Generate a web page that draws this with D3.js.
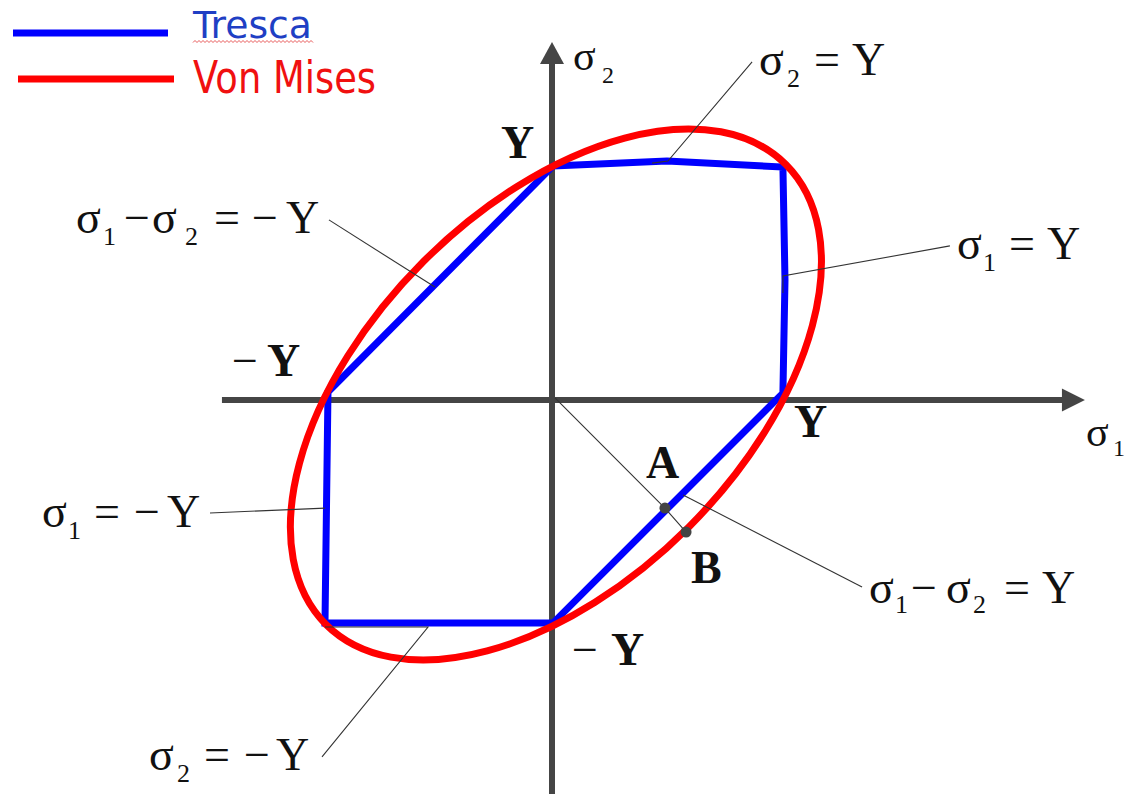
<!DOCTYPE html>
<html>
<head>
<meta charset="utf-8">
<script src="https://cdn.jsdelivr.net/npm/d3@7"></script>
<style>
  html, body { margin: 0; padding: 0; background: #fff; }
  svg { display: block; }
  .serif { font-family: "Liberation Serif", "Times New Roman", serif; fill: #111; }
  .legend { font-family: "DejaVu Sans", Verdana, sans-serif; }
</style>
</head>
<body>
<svg id="chart" width="1126" height="794"></svg>
<script>
// Yield surfaces in the principal stress plane, stresses in units of Y.

// Tresca hexagon vertices (sigma1, sigma2)
const trescaS1 = [0.004, 0.500, 1.004, 1.013, 1.004, 0.004, -0.987, -0.974];
const trescaS2 = [1.017, 1.039, 1.013, 0.522, 0.030, -0.970, -0.970, 0.035];

// Von Mises ellipse: centre, semi-axes (sqrt2, sqrt(2/3)) and tilt in degrees
const vmCenter = [0.017, 0.024];
const vmSemiAxes = [1.414, 0.816];
const vmAngle = 45;

// Marked points on the sigma1 - sigma2 = Y direction
const pointNames = ["A", "B"];
const pointS1 = [0.491, 0.583];
const pointS2 = [-0.470, -0.574];

// Axis extents (sigma units)
const axisS1 = [-1.435, 2.317];
const axisS2 = [-1.75, 1.557];

// Leader lines from each equation label to its edge
const leaderLines = [
  [[0.870, 1.470], [0.504, 1.039], [0.435, 1.030]],     // sigma2 = Y
  [[1.730, 0.670], [1.004, 0.539], [1.004, 0.465]],     // sigma1 = Y
  [[-0.970, 0.783], [-0.509, 0.491]],                   // sigma1 - sigma2 = -Y
  [[-1.487, -0.491], [-0.987, -0.470]],                 // sigma1 = -Y
  [[-1.000, -1.552], [-0.539, -0.987], [-0.987, -0.987]], // sigma2 = -Y
  [[0.013, 0.009], [0.491, -0.470], [0.583, -0.574]],   // normal through A and B
  [[0.570, -0.413], [1.348, -0.813]]                    // sigma1 - sigma2 = Y
];

const legendNames = ["Tresca", "Von Mises"];
const legendColors = ["#0000ff", "#ff0000"];

const svg = d3.select("#chart");

const x = d3.scaleLinear().domain([0, 1]).range([552, 782]);
const y = d3.scaleLinear().domain([0, 1]).range([400, 170]);

// ---- axes ----
const axisColor = "#454545";
const axes = svg.append("g");
axes.append("line")
  .attr("x1", x(axisS1[0])).attr("x2", x(axisS1[1]) - 18)
  .attr("y1", y(0)).attr("y2", y(0))
  .attr("stroke", axisColor).attr("stroke-width", 6);
axes.append("path")
  .attr("d", `M${x(axisS1[1])},${y(0)} L${x(axisS1[1]) - 23},${y(0) - 11.5} L${x(axisS1[1]) - 23},${y(0) + 11.5} Z`)
  .attr("fill", axisColor);
axes.append("line")
  .attr("x1", x(0)).attr("x2", x(0))
  .attr("y1", y(axisS2[0])).attr("y2", y(axisS2[1]) + 18)
  .attr("stroke", axisColor).attr("stroke-width", 6);
axes.append("path")
  .attr("d", `M${x(0)},${y(axisS2[1])} L${x(0) - 12},${y(axisS2[1]) + 22} L${x(0) + 12},${y(axisS2[1]) + 22} Z`)
  .attr("fill", axisColor);

// ---- Tresca hexagon ----
const trescaPts = trescaS1.map((s, i) => [x(s), y(trescaS2[i])]);
svg.append("path")
  .attr("d", d3.line().curve(d3.curveLinearClosed)(trescaPts))
  .attr("fill", "none")
  .attr("stroke", legendColors[0])
  .attr("stroke-width", 7)
  .attr("stroke-linejoin", "miter");

// ---- Von Mises ellipse ----
svg.append("ellipse")
  .attr("transform", `translate(${x(vmCenter[0])},${y(vmCenter[1])}) rotate(${-vmAngle})`)
  .attr("rx", x(vmSemiAxes[0]) - x(0))
  .attr("ry", x(vmSemiAxes[1]) - x(0))
  .attr("fill", "none")
  .attr("stroke", legendColors[1])
  .attr("stroke-width", 7);

// ---- leader lines ----
const leader = d3.line().x(d => x(d[0])).y(d => y(d[1]));
svg.append("g").selectAll("path")
  .data(leaderLines)
  .join("path")
  .attr("d", leader)
  .attr("fill", "none")
  .attr("stroke", "#333")
  .attr("stroke-width", 1.1);

// ---- points A and B ----
svg.append("g").selectAll("circle")
  .data(pointNames)
  .join("circle")
  .attr("cx", (d, i) => x(pointS1[i]))
  .attr("cy", (d, i) => y(pointS2[i]))
  .attr("r", 5.5)
  .attr("fill", "#444");

// ---- text helpers ----
const T = svg.append("g").attr("class", "serif");
function put(str, px, py, size, weight) {
  T.append("text")
    .attr("x", px).attr("y", py)
    .attr("font-size", size)
    .attr("font-weight", weight || "normal")
    .text(str);
}
const M = 46, S = 26;

// sigma1 - sigma2 = -Y
put("σ", 76, 233, M); put("1", 103, 245, S); put("−", 124, 233, M);
put("σ", 152, 233, M); put("2", 185, 245, S); put("=", 214, 233, M);
put("−", 252, 233, M); put("Y", 286, 233, M);

// sigma2 = Y
put("σ", 759, 75, M); put("2", 787, 87, S); put("=", 814, 75, M); put("Y", 852, 75, M);

// sigma1 = Y
put("σ", 957, 259, M); put("1", 983, 271, S); put("=", 1009, 259, M); put("Y", 1047, 259, M);

// sigma1 = -Y
put("σ", 42, 527, M); put("1", 68, 539, S); put("=", 94, 527, M);
put("−", 134, 527, M); put("Y", 167, 527, M);

// sigma2 = -Y
put("σ", 149, 770, M); put("2", 177, 782, S); put("=", 204, 770, M);
put("−", 244, 770, M); put("Y", 276, 770, M);

// sigma1 - sigma2 = Y
put("σ", 869, 603, M); put("1", 895, 613, S); put("−", 911, 603, M);
put("σ", 946, 603, M); put("2", 973, 613, S); put("=", 1004, 603, M); put("Y", 1042, 603, M);

// axis titles
put("σ", 573, 70, 42); put("2", 602, 83, 24);
put("σ", 1086, 446, 42); put("1", 1113, 456, 24);

// intercept labels
put("Y", 501, 158, 46, "bold");
put("−", 232, 376, 46); put("Y", 267, 376, 46, "bold");
put("Y", 794, 437, 46, "bold");
put("−", 572, 665, 46); put("Y", 611, 665, 46, "bold");
put("A", 646, 478, 46, "bold");
put("B", 691, 583, 46, "bold");

// ---- legend ----
const lg = svg.append("g").attr("class", "legend");
const legendRows = [
  { x1: 13, x2: 168, ly: 33, tx: 193, ty: 38, fs: 38, w: 119 },
  { x1: 18, x2: 174, ly: 79, tx: 193, ty: 93, fs: 44, w: 183 }
];
legendNames.forEach((name, i) => {
  const r = legendRows[i];
  lg.append("line")
    .attr("x1", r.x1).attr("x2", r.x2).attr("y1", r.ly).attr("y2", r.ly)
    .attr("stroke", legendColors[i]).attr("stroke-width", 7);
  lg.append("text")
    .attr("x", r.tx).attr("y", r.ty)
    .attr("font-size", r.fs)
    .attr("textLength", r.w)
    .attr("lengthAdjust", "spacingAndGlyphs")
    .attr("fill", i === 0 ? "#1f3fc4" : "#f01010")
    .text(name);
});
// spell-check squiggle under "Tresca"
const squiggle = d3.range(0, 121, 2).map((d, i) => [193 + d, 41.5 + (i % 2 ? -1 : 1)]);
lg.append("path")
  .attr("d", d3.line()(squiggle))
  .attr("fill", "none")
  .attr("stroke", "#e03030")
  .attr("stroke-width", 0.8);
</script>
</body>
</html>
